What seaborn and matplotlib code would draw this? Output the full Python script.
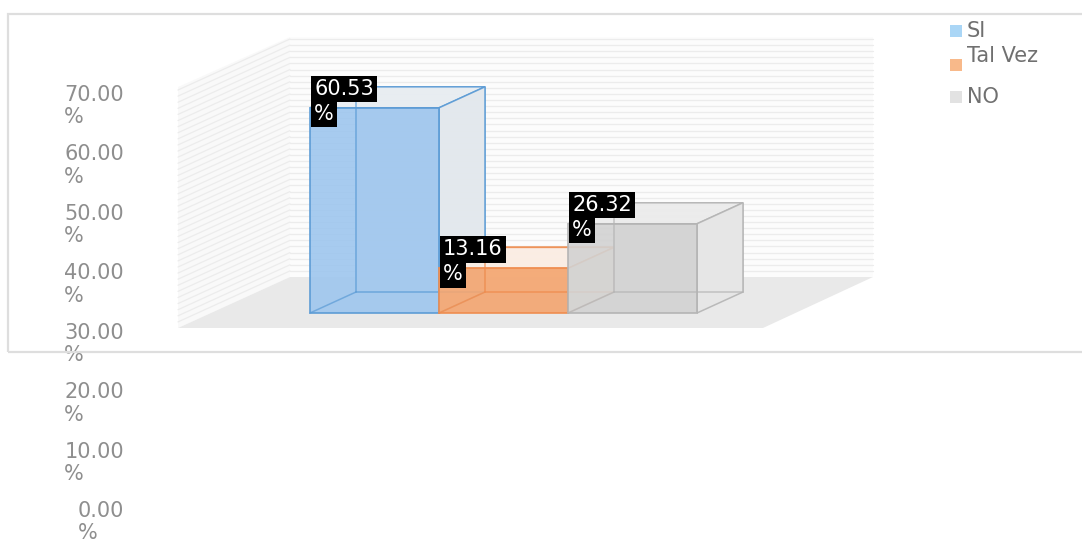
import numpy as np
import matplotlib
matplotlib.use("Agg")
import matplotlib.pyplot as plt
from matplotlib.patches import Polygon, Rectangle
import seaborn as sns

# data
categories = ["SI", "Tal Vez", "NO"]
values = [60.53, 13.16, 26.32]
value_labels = ["60.53", "13.16", "26.32"]
tick_values = [0, 10, 20, 30, 40, 50, 60, 70]

front_colors = ["#9ec6ee", "#f4a56f", "#d2d2d2"]
edge_colors = ["#5b9bd5", "#ef8c4e", "#b4b4b4"]
top_colors = ["#e8edf2", "#fbeee4", "#ececec"]
side_colors = ["#e3e8ed", "#f8e6da", "#e6e6e6"]
legend_colors = ["#aad6f6", "#f8b98a", "#e2e2e2"]

W, H = 1082, 540
PXX, PXY = 129.0, 3.39   # px per category / px per percent
X0, Y0 = 310, 313        # pixel of left edge of first bar / baseline


def px(x, y):
    # pixel (from top-left) -> data coords of main axes
    return (-0.5 + (x - X0) / PXX, (Y0 - y) / PXY)


sns.set_style("white")
plt.rcParams["font.family"] = ["DejaVu Sans"]
fig = plt.figure(figsize=(W / 100, H / 100), dpi=100)
ax = fig.add_axes([0, 0, 1, 1])

# outer frame
fig.patches.append(Rectangle((8 / W, 1 - 352 / H), 1.2, (352 - 14) / H, transform=fig.transFigure,
                             fill=False, edgecolor="#dedede", lw=1.6, zorder=0))

# front faces of bars
sns.barplot(x=categories, y=values, hue=categories, palette=front_colors, width=1,
            saturation=1, legend=False, ax=ax)
bars = sorted([p for c in ax.containers for p in c], key=lambda p: p.get_x())

# room: floor, back wall, side wall with dense grid lines
fl, bl, br, fr = px(178, 328), px(290, 277), px(873, 277), px(763, 328)
bt = px(290, 37)
ft = px(178, 87)
ax.add_patch(Polygon([fl, bl, br, fr], closed=True, fc="#e9e9e9", ec="none", zorder=1))
ax.add_patch(Polygon([bl, bt, (br[0], bt[1]), br], closed=True, fc="#fcfcfc", ec="none", zorder=0.5))
ax.add_patch(Polygon([fl, bl, bt, ft], closed=True, fc="#f9f9f9", ec="none", zorder=0.5))
ddy = bl[1] - fl[1]
for gy in np.arange(bl[1] + 1.8, bt[1], 1.8):
    ax.plot([bl[0], br[0]], [gy, gy], color="#ececec", lw=0.9, zorder=0.8)
    ax.plot([fl[0], bl[0]], [gy - ddy, gy], color="#ececec", lw=0.9, zorder=0.8)

dx, dy = 46 / PXX, 21 / PXY
for i, p in enumerate(bars):
    x0, w, h = p.get_x(), p.get_width(), p.get_height()
    z = 2 + 2 * i
    p.set_alpha(0.9)
    p.set_edgecolor(edge_colors[i])
    p.set_linewidth(1.3)
    p.set_zorder(z + 1)
    ax.add_patch(Polygon([(x0 + dx, dy), (x0 + w + dx, dy), (x0 + w + dx, h + dy), (x0 + dx, h + dy)],
                         closed=True, fc=side_colors[i], ec=edge_colors[i], lw=1.1, alpha=0.7, zorder=z))
    ax.add_patch(Polygon([(x0, h), (x0 + w, h), (x0 + w + dx, h + dy), (x0 + dx, h + dy)],
                         closed=True, fc=top_colors[i], ec=edge_colors[i], lw=1.1, alpha=0.9, zorder=z))
    ax.add_patch(Polygon([(x0 + w, 0), (x0 + w + dx, dy), (x0 + w + dx, h + dy), (x0 + w, h)],
                         closed=True, fc=side_colors[i], ec=edge_colors[i], lw=1.1, alpha=0.9, zorder=z))
    ax.plot([x0, x0 + dx], [0, dy], color=edge_colors[i], lw=1.1, alpha=0.7, zorder=z + 1.5)
    ax.plot([x0 + dx, x0 + dx], [dy, h + dy], color=edge_colors[i], lw=1.1, alpha=0.7, zorder=z + 1.5)
    ax.plot([x0 + dx, x0 + w + dx], [dy, dy], color=edge_colors[i], lw=1.1, alpha=0.7, zorder=z + 1.5)
    box = dict(boxstyle="square,pad=0.15", fc="black", ec="none")
    ax.annotate(value_labels[i], xy=(x0, h), xytext=(4, 19), textcoords="offset pixels",
                ha="left", va="center", color="white", fontsize=15, bbox=box, zorder=20)
    ax.annotate("%", xy=(x0, h), xytext=(4, -6), textcoords="offset pixels",
                ha="left", va="center", color="white", fontsize=15, bbox=box, zorder=20)

ax.set_xlim(-0.5 - X0 / PXX, -0.5 + (W - X0) / PXX)
ax.set_ylim((Y0 - H) / PXY, Y0 / PXY)
ax.axis("off")

# y axis labels (drawn on their own scale, overflowing the frame)
ax2 = fig.add_axes([128 / W, 1 - 519 / H, 0.01, (519 - 103) / H])
ax2.set_ylim(0, 70)
ax2.set_yticks(tick_values)
ax2.set_yticklabels([f"{v:.2f}\n%" for v in tick_values], color="#8e8e8e", fontsize=15, linespacing=1.15)
for lbl in ax2.get_yticklabels():
    lbl.set_multialignment("left")
ax2.tick_params(axis="y", length=0, pad=3)
ax2.set_xticks([])
for s in ax2.spines.values():
    s.set_visible(False)
ax2.patch.set_visible(False)

# legend
leg_y = [31, 56, 97]
sq_y = [31, 65, 97]
for i, c in enumerate(categories):
    fig.patches.append(Rectangle((950 / W, 1 - (sq_y[i] + 6) / H), 12 / W, 12 / H, transform=fig.transFigure,
                                 fc=legend_colors[i], ec="none"))
    fig.text(967 / W, 1 - leg_y[i] / H, c, ha="left", va="center", fontsize=15, color="#707070")

fig.savefig("out.png", dpi=100)
